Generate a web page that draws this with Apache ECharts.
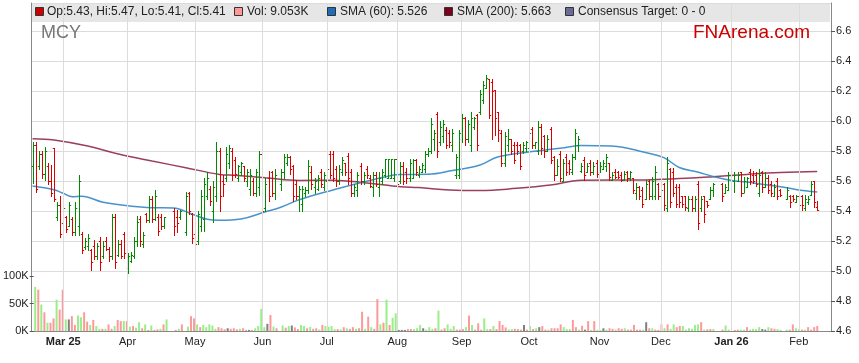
<!DOCTYPE html>
<html><head><meta charset="utf-8">
<script src="https://cdn.jsdelivr.net/npm/echarts@6/dist/echarts.min.js"></script>
<style>html,body{margin:0;padding:0;background:#fff}#c{width:859px;height:363px}</style>
</head><body><div id="c"></div>
<script>
// ---- data ----
const firstDay = '2025-02-17', lastDay = '2026-02-16'; // weekday calendar of x axis
const monthStarts = ['2025-03-03','2025-04-01','2025-05-01','2025-06-02','2025-07-01','2025-08-01','2025-09-01','2025-10-01','2025-11-03','2025-12-01','2026-01-01','2026-02-02'];
const monthLabels = ['Mar 25','Apr','May','Jun','Jul','Aug','Sep','Oct','Nov','Dec','Jan 26','Feb'];
const priceTicks = [4.6,4.8,5.0,5.2,5.4,5.6,5.8,6.0,6.2,6.4,6.6];
const volTicks = [0,50,100];
const N = null;
const opens = [5.70,5.84,5.70,5.78,5.65,5.70,5.60,5.82,5.36,5.44,5.32,5.36,5.30,5.35,5.26,5.30,5.25,5.16,5.17,5.14,5.17,5.10,5.20,5.10,5.20,5.15,5.10,5.36,5.11,5.18,5.25,5.02,5.07,5.10,5.20,5.35,5.18,5.38,5.34,5.48,5.35,5.36,5.36,5.30,N,N,5.40,5.36,5.36,N,5.26,5.52,5.38,5.25,5.20,5.30,5.35,5.50,5.55,5.40,5.50,5.80,5.60,5.62,5.72,5.80,5.74,5.62,5.66,5.70,5.60,5.55,5.60,5.52,5.56,5.78,5.42,5.62,5.66,5.52,N,5.58,5.66,5.72,5.76,5.70,5.58,5.50,5.45,5.52,5.54,5.66,5.56,5.55,5.66,5.56,5.60,5.78,5.78,5.68,5.60,5.66,5.72,5.77,5.66,5.52,5.54,5.70,5.60,5.68,5.62,5.56,5.64,5.56,5.60,5.64,5.62,5.62,5.62,5.75,5.60,5.70,5.66,5.62,5.62,5.74,5.64,5.66,5.68,5.78,5.80,5.88,6.05,5.86,5.90,5.94,5.92,5.84,5.64,5.64,5.88,6.02,5.88,5.84,5.96,6.04,6.06,6.14,6.22,6.28,6.26,6.21,6.06,5.92,5.72,5.84,5.88,5.84,5.84,5.84,5.80,5.82,5.82,5.95,5.84,5.80,5.96,5.90,5.80,5.95,5.76,5.64,5.78,5.60,5.76,5.72,5.66,5.76,5.84,5.67,5.74,5.66,5.72,5.66,5.72,5.66,5.68,5.70,5.72,5.61,5.66,5.66,5.64,5.61,5.66,5.62,5.62,5.52,5.56,5.54,5.48,5.60,5.50,5.50,5.58,5.50,5.58,5.42,5.68,5.66,5.56,5.56,5.50,5.50,5.42,5.48,5.42,5.58,5.42,5.50,5.47,5.48,5.54,N,N,5.58,5.52,5.54,N,5.60,5.60,5.66,5.52,5.56,5.66,5.64,5.64,5.52,5.66,5.56,5.62,5.58,5.50,5.60,5.54,N,5.48,5.50,5.50,5.46,5.50,5.50,5.42,5.46,5.51,5.60,5.43];
const highs = [5.86,5.86,5.80,5.80,5.83,5.72,5.71,5.82,5.46,5.50,5.45,5.37,5.46,5.36,5.46,5.64,5.26,5.22,5.25,5.15,5.21,5.19,5.23,5.20,5.23,5.16,5.38,5.38,5.21,5.21,5.26,5.12,5.13,5.23,5.37,5.37,5.26,5.39,5.50,5.50,5.54,5.38,5.38,5.36,N,N,5.42,5.41,5.41,N,5.53,5.53,5.39,5.36,5.40,5.54,5.62,5.66,5.57,5.60,5.86,5.82,5.64,5.83,5.84,5.82,5.76,5.71,5.73,5.70,5.68,5.68,5.62,5.68,5.80,5.80,5.62,5.67,5.67,5.68,N,5.68,5.78,5.78,5.77,5.71,5.61,5.57,5.57,5.56,5.74,5.70,5.62,5.64,5.68,5.66,5.70,5.80,5.80,5.70,5.71,5.76,5.72,5.79,5.68,5.58,5.66,5.72,5.66,5.70,5.64,5.66,5.66,5.66,5.68,5.75,5.75,5.75,5.75,5.76,5.73,5.73,5.69,5.75,5.75,5.75,5.70,5.72,5.80,5.82,6.02,5.94,6.06,6.00,6.01,5.96,5.94,5.95,5.78,5.94,6.05,6.03,6.01,6.06,6.03,6.05,6.21,6.27,6.31,6.28,6.28,6.21,6.06,5.94,5.93,5.95,5.88,5.86,5.86,5.85,5.86,5.87,5.94,5.96,5.86,6.00,5.98,5.91,5.91,5.96,5.77,5.75,5.80,5.75,5.78,5.74,5.78,5.95,5.90,5.72,5.76,5.72,5.74,5.73,5.74,5.73,5.74,5.78,5.72,5.66,5.68,5.67,5.66,5.67,5.67,5.67,5.62,5.59,5.57,5.56,5.61,5.61,5.63,5.70,5.59,5.56,5.59,5.76,5.69,5.69,5.58,5.58,5.50,5.50,5.50,5.50,5.50,5.60,5.50,5.50,5.47,5.56,5.59,N,N,5.59,5.58,5.66,N,5.66,5.66,5.66,5.63,5.63,5.68,5.67,5.66,5.68,5.67,5.66,5.64,5.60,5.58,5.62,5.55,N,5.56,5.51,5.51,5.51,5.51,5.51,5.51,5.50,5.60,5.60,5.47];
const lows = [5.59,5.53,5.68,5.62,5.61,5.58,5.50,5.47,5.34,5.23,5.30,5.26,5.30,5.24,5.24,5.24,5.12,5.15,5.14,5.01,5.08,5.08,5.01,5.09,5.14,5.07,5.08,5.02,5.10,5.09,5.09,4.99,5.06,5.09,5.17,5.17,5.16,5.33,5.33,5.33,5.34,5.24,5.28,5.29,N,N,5.24,5.26,5.35,N,5.24,5.38,5.19,5.15,5.18,5.27,5.27,5.48,5.44,5.33,5.47,5.40,5.50,5.60,5.69,5.61,5.63,5.60,5.64,5.60,5.57,5.51,5.51,5.50,5.51,5.36,5.40,5.47,5.50,5.48,N,5.54,5.62,5.71,5.65,5.47,5.48,5.40,5.40,5.50,5.52,5.55,5.52,5.54,5.56,5.54,5.59,5.62,5.60,5.57,5.58,5.64,5.64,5.58,5.50,5.50,5.50,5.58,5.58,5.62,5.56,5.50,5.57,5.50,5.58,5.63,5.62,5.62,5.60,5.56,5.59,5.58,5.59,5.60,5.62,5.64,5.63,5.66,5.66,5.77,5.79,5.81,5.76,5.84,5.86,5.82,5.83,5.80,5.62,5.62,5.86,5.84,5.86,5.80,5.95,5.81,6.05,6.12,6.22,6.02,5.88,5.91,5.87,5.70,5.70,5.80,5.78,5.72,5.78,5.68,5.79,5.80,5.81,5.82,5.82,5.78,5.78,5.76,5.80,5.72,5.61,5.64,5.60,5.60,5.64,5.65,5.65,5.75,5.80,5.66,5.61,5.66,5.64,5.65,5.63,5.66,5.68,5.67,5.61,5.61,5.62,5.62,5.60,5.61,5.60,5.61,5.52,5.48,5.48,5.43,5.48,5.48,5.48,5.48,5.48,5.48,5.41,5.40,5.43,5.50,5.43,5.43,5.43,5.41,5.40,5.40,5.40,5.28,5.40,5.33,5.43,5.48,5.50,N,N,5.47,5.52,5.54,N,5.53,5.60,5.50,5.53,5.56,5.58,5.59,5.57,5.50,5.53,5.56,5.52,5.50,5.50,5.48,5.50,N,5.48,5.43,5.47,5.46,5.41,5.41,5.41,5.45,5.51,5.43,5.41];
const closes = [5.84,5.55,5.78,5.65,5.80,5.60,5.52,5.48,5.44,5.25,5.42,5.28,5.44,5.26,5.42,5.60,5.14,5.20,5.22,5.06,5.10,5.17,5.06,5.17,5.15,5.10,5.36,5.06,5.18,5.10,5.12,5.10,5.11,5.20,5.33,5.20,5.24,5.34,5.48,5.35,5.50,5.27,5.30,5.36,N,N,5.30,5.32,5.40,N,5.50,5.40,5.22,5.18,5.38,5.50,5.58,5.62,5.47,5.56,5.80,5.50,5.58,5.78,5.82,5.64,5.65,5.70,5.72,5.62,5.66,5.64,5.52,5.66,5.78,5.40,5.58,5.50,5.52,5.64,N,5.66,5.76,5.76,5.68,5.50,5.50,5.55,5.55,5.54,5.70,5.58,5.60,5.62,5.58,5.64,5.68,5.64,5.62,5.60,5.68,5.74,5.66,5.62,5.52,5.56,5.64,5.60,5.64,5.64,5.57,5.64,5.58,5.62,5.66,5.75,5.75,5.75,5.75,5.58,5.70,5.60,5.62,5.72,5.74,5.66,5.68,5.71,5.78,5.80,5.98,5.92,5.80,5.96,5.98,5.84,5.86,5.92,5.76,5.92,6.02,5.88,5.98,6.02,6.02,5.84,6.18,6.24,6.29,6.04,6.20,6.02,5.94,5.72,5.90,5.88,5.80,5.74,5.80,5.70,5.84,5.86,5.92,5.84,5.86,5.96,5.82,5.80,5.88,5.74,5.64,5.70,5.62,5.72,5.66,5.68,5.76,5.92,5.88,5.70,5.64,5.70,5.66,5.70,5.65,5.70,5.72,5.76,5.63,5.64,5.63,5.63,5.61,5.65,5.62,5.66,5.54,5.56,5.50,5.45,5.58,5.50,5.60,5.66,5.50,5.54,5.44,5.72,5.46,5.52,5.45,5.46,5.45,5.43,5.48,5.42,5.48,5.32,5.48,5.38,5.44,5.54,5.58,N,N,5.50,5.56,5.64,N,5.64,5.64,5.52,5.60,5.62,5.60,5.60,5.58,5.64,5.56,5.62,5.54,5.52,5.56,5.50,5.51,N,5.54,5.46,5.48,5.50,5.44,5.44,5.48,5.48,5.58,5.46,5.41];
// volume in thousands, and its colour class (u up, d down, n unchanged)
const volumes = [80,75,48,34,15,15,23,57,39,75,21,21,27,11,28,25,34,17,11,20,9,4,4,4,12,4,9,20,18,18,18,8,9,6,16,5,12,2,10,2,3,4,12,21,N,N,2,4,12,N,8,27,23,12,7,11,7,12,10,4,7,5,3,5,4,5,3,4,5,2,2,2,5,9,40,7,13,29,8,5,N,10,6,9,10,6.5,3.5,11,9,5,7.5,4,5,2.5,11,9,7.5,9,3.5,3.5,2.5,7,5,4,7,4,5,35,4,26,7,4,58,12,15,57,11,24,32,2,2,2,3.5,3.5,3.5,5,11,5,2.5,7,4,5,37,2.5,5,12,4,9,2.5,2.5,3.5,7,28,11,2.5,14,2.5,23,3.5,3.5,9,3.5,18,11,6.5,2.5,3.5,4,3.5,2.5,11,2.5,9,3.5,5,7,9,2.5,2.5,5,5,5,12,7,3.5,3.5,20,7,2.5,9.5,2.5,18,2,18,2,2,5,2.5,5,4,2.5,5,4,5,2.5,2.5,11,2.5,2.5,2.5,16,5,5,2.5,2,12,5,12,4,12,7,9,9,2.5,5,4,11,12,16,2.5,3,3.5,3.5,N,N,2.5,10,2.5,N,2,2.5,2.5,2.5,7,2.5,4,3.5,7,3.5,2.5,7,5,4,3.5,2,N,2.5,2.5,12,5,3.5,2.5,2.5,7,2.5,7,9.053];
const volDir = ['u','d','u','d','u','d','d','u','d','d','u','n','d','d','u','u','d','d','u','d','u','u','d','u','d','d','u','d','d','u','d','u','d','u','u','d','u','d','u','d','d','u','d','u',N,N,'d','u','d',N,'u','d','d','u','d','u','u','u','u','u','d','d','d','n','d','d','d','u','d','d','n','d','u','u','u','u','n','d','u','d',N,'u','d','u','n','d','d','u','u','d','u','d','d','u','d','u','u','u','u','d','u','d','u','d','d','u','d','d','u','d','u','d','d','u','d','u','d','u','u','n','n','n','d','d','u','u','u','n','u','u','u','d','u','d','d','u','u','u','d','d','d','u','d','u','d','d','d','u','u','d','u','d','d','d','d','u','u','d','d','d','n','d','u','d','u','n','d','d','u','d','d','d','d','u','u','u','d','d','u','d','n','d','u','d','u','u','n','u','d','d','u','d','d','u','d','d','d','d','d','u','n','d','u','d','d','d','u','d','u','u','d','d','u','u','u','u','u','u','d','u','d','d','u',N,N,'d','u','u',N,'d','d','u','u','d','u','u','u','u','n','n','u','d','d','u','u',N,'u','d','d','u','u','d','u','d','d','d','d'];
// moving averages: [weekday index, value]
const sma60 = [[0,5.567],[7,5.542],[10,5.518],[13,5.495],[16,5.498],[23,5.458],[31,5.435],[39,5.422],[46,5.42],[52,5.38],[57,5.345],[61,5.338],[68,5.347],[76,5.395],[81,5.425],[87,5.475],[98,5.54],[109,5.598],[117,5.636],[120,5.643],[129,5.645],[137,5.67],[146,5.707],[152,5.762],[163,5.796],[174,5.824],[179,5.837],[189,5.833],[200,5.79],[206,5.756],[211,5.69],[217,5.66],[222,5.63],[228,5.604],[233,5.593],[238,5.578],[244,5.562],[249,5.544],[256,5.526]];
const sma200 = [[0,5.882],[7,5.873],[18,5.833],[28,5.78],[39,5.733],[50,5.689],[61,5.644],[66,5.638],[76,5.622],[87,5.604],[98,5.605],[109,5.587],[120,5.562],[126,5.556],[136,5.54],[146,5.536],[158,5.551],[169,5.573],[179,5.605],[200,5.607],[211,5.616],[222,5.629],[233,5.644],[244,5.656],[256,5.663]];

// ---- build ----
const dates = [];
for (let t = Date.parse(firstDay + 'T00:00:00Z'); t <= Date.parse(lastDay + 'T00:00:00Z'); t += 86400000) {
  const d = new Date(t); const wd = d.getUTCDay();
  if (wd === 0 || wd === 6) continue;
  dates.push(d.toISOString().slice(0, 10));
}
const monthIdx = monthStarts.map(m => dates.indexOf(m));
const ohlc = [];
const vols = [];
const volColor = {u:'#99ee88', d:'#ff9999', n:'#808080'};
for (let i = 0; i < opens.length; i++) {
  if (opens[i] == null) continue;
  ohlc.push([i, opens[i], highs[i], lows[i], closes[i]]);
  vols.push({value:[i, volumes[i]], itemStyle:{color: volColor[volDir[i]] || '#808080'}});
}
const FONT = '"Liberation Sans", Arial, sans-serif';
const L = 31, R = 28, BOT = 32;
const chart = echarts.init(document.getElementById('c'), null, {renderer:'canvas'});
const option = {
  animation:false,
  backgroundColor:'#fff',
  grid:[
    {left:L, right:R, top:3, bottom:BOT, containLabel:false},
    {left:L, right:R, top:276, bottom:BOT, containLabel:false}
  ],
  xAxis:[
    {type:'category', gridIndex:0, data:dates, boundaryGap:true,
     axisLine:{show:true, lineStyle:{color:'#888'}}, axisTick:{show:false}, splitLine:{show:false},
     axisLabel:{interval:(i)=>monthIdx.includes(i), margin:5, fontFamily:FONT, fontSize:11, color:'#222',
       formatter:(v,i)=>{const k=monthIdx.indexOf(i); const s=monthLabels[k]; return /\d/.test(s)?'{b|'+s+'}':s;},
       rich:{b:{fontWeight:'bold', fontFamily:FONT, fontSize:11, color:'#222'}}}},
    {type:'category', gridIndex:1, data:dates, boundaryGap:true, show:false}
  ],
  yAxis:[
    {type:'value', gridIndex:0, position:'right', min:4.6, max:6.7867, interval:0.2,
     axisLine:{show:true, lineStyle:{color:'#888'}}, axisTick:{show:true, length:4, lineStyle:{color:'#555'}},
     splitLine:{show:true, lineStyle:{color:'#dcdcdc', width:1}},
     axisLabel:{showMaxLabel:false, margin:5, fontFamily:FONT, fontSize:11, color:'#222', formatter:v=>priceTicks.some(p=>Math.abs(p-v)<1e-6)?v.toFixed(1):''}},
    {type:'value', gridIndex:0, position:'left', min:0, max:1, axisLine:{show:true, lineStyle:{color:'#888'}}, axisTick:{show:false}, axisLabel:{show:false}, splitLine:{show:false}},
    {type:'value', gridIndex:1, position:'left', min:0, max:100, interval:50,
     axisLine:{show:false}, axisTick:{show:true, length:4, lineStyle:{color:'#555'}}, splitLine:{show:false},
     axisLabel:{margin:5, fontFamily:FONT, fontSize:11, color:'#222', formatter:v=>volTicks.includes(v)? v+'K':''}}
  ],
  series:[
    {type:'line', xAxisIndex:0, yAxisIndex:0, data:[], silent:true, z:1,
     markLine:{silent:true, symbol:'none', label:{show:false}, lineStyle:{color:'#dcdcdc', type:'solid', width:1},
       data: monthStarts.map(m=>({xAxis:m}))}},
    {type:'bar', xAxisIndex:1, yAxisIndex:2, data:vols, barWidth:2, z:2},
    {type:'line', xAxisIndex:0, yAxisIndex:0, data:sma200, smooth:0.4, showSymbol:false, z:3,
     lineStyle:{color:'#8a1f40', width:1.5, opacity:0.85}},
    {type:'line', xAxisIndex:0, yAxisIndex:0, data:sma60, smooth:0.4, showSymbol:false, z:3,
     lineStyle:{color:'#3587c8', width:1.5, opacity:0.9}},
    {type:'custom', xAxisIndex:0, yAxisIndex:0, data:ohlc, z:4, encode:{x:0, y:[1,2,3,4]},
     renderItem:(params, api)=>{
       const x = api.value(0), o = api.value(1), h = api.value(2), l = api.value(3), c = api.value(4);
       const pH = api.coord([x,h]), pL = api.coord([x,l]), pO = api.coord([x,o]), pC = api.coord([x,c]);
       const w = api.size([1,0])[0] * 0.55;
       const col = c >= o ? '#008a00' : '#dd0000';
       const cx = Math.round(pH[0]) + 0.5;
       const st = {stroke:col, lineWidth:1};
       return {type:'group', children:[
         {type:'line', shape:{x1:cx, y1:Math.round(pH[1]), x2:cx, y2:Math.round(pL[1])+1}, style:st},
         {type:'line', shape:{x1:cx-w, y1:Math.round(pO[1])+0.5, x2:cx, y2:Math.round(pO[1])+0.5}, style:st},
         {type:'line', shape:{x1:cx, y1:Math.round(pC[1])+0.5, x2:cx+w, y2:Math.round(pC[1])+0.5}, style:st}
       ]};
     }}
  ],
  graphic:[
    {type:'rect', z:-10, shape:{x:31, y:3, width:799, height:19}, style:{fill:'#e6e6e6'}},
    {type:'rect', z:10, shape:{x:35.5, y:7.5, width:8, height:8}, style:{fill:'#cc0000', stroke:'#333', lineWidth:1}},
    {type:'text', z:10, x:47, y:12, style:{text:'Op:5.43, Hi:5.47, Lo:5.41, Cl:5.41', font:'12px '+FONT, fill:'#222', verticalAlign:'middle'}},
    {type:'rect', z:10, shape:{x:234.5, y:7.5, width:8, height:8}, style:{fill:'#ff9999', stroke:'#333', lineWidth:1}},
    {type:'text', z:10, x:247, y:12, style:{text:'Vol: 9.053K', font:'12px '+FONT, fill:'#222', verticalAlign:'middle'}},
    {type:'rect', z:10, shape:{x:327.5, y:7.5, width:8, height:8}, style:{fill:'#1f6db5', stroke:'#333', lineWidth:1}},
    {type:'text', z:10, x:340, y:12, style:{text:'SMA (60): 5.526', font:'12px '+FONT, fill:'#222', verticalAlign:'middle'}},
    {type:'rect', z:10, shape:{x:444.5, y:7.5, width:8, height:8}, style:{fill:'#800020', stroke:'#333', lineWidth:1}},
    {type:'text', z:10, x:457, y:12, style:{text:'SMA (200): 5.663', font:'12px '+FONT, fill:'#222', verticalAlign:'middle'}},
    {type:'rect', z:10, shape:{x:565.5, y:7.5, width:8, height:8}, style:{fill:'#6a6a96', stroke:'#333', lineWidth:1}},
    {type:'text', z:10, x:578, y:12, style:{text:'Consensus Target: 0 - 0', font:'12px '+FONT, fill:'#222', verticalAlign:'middle'}},
    {type:'text', z:10, x:41, y:33, style:{text:'MCY', font:'18px '+FONT, fill:'#777', verticalAlign:'middle'}},
    {type:'text', z:10, x:693, y:33, style:{text:'FNArena.com', font:'19px '+FONT, fill:'#cc0000', verticalAlign:'middle'}}
  ]
};
chart.setOption(option);
</script></body></html>
